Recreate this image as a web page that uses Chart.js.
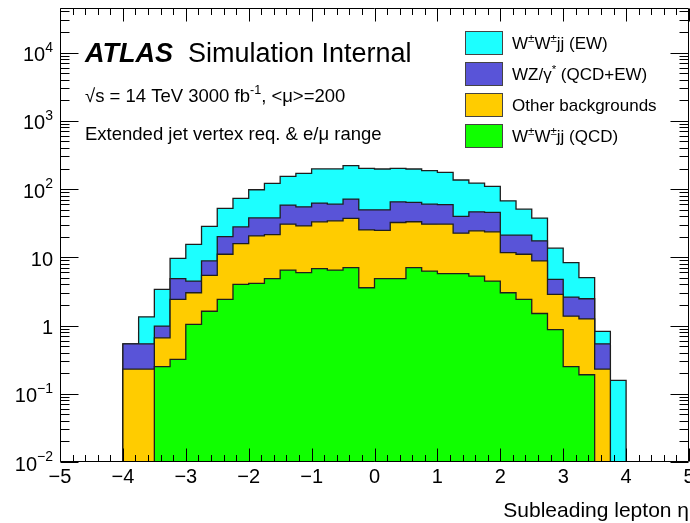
<!DOCTYPE html>
<html><head><meta charset="utf-8">
<script src="https://cdn.jsdelivr.net/npm/chart.js@4"></script>
<style>html,body{margin:0;padding:0;background:#fff;overflow:hidden;} #wrap{position:relative;width:690px;height:523px;overflow:hidden;}</style>
</head><body><div id="wrap"><canvas id="c" width="690" height="523"></canvas></div>
<script>
// Bin lower edges in subleading-lepton eta (bin width 0.25)
const binLowEdges = [-4,-3.75,-3.5,-3.25,-3,-2.75,-2.5,-2.25,-2,-1.75,-1.5,-1.25,-1,-0.75,-0.5,-0.25,
                     0,0.25,0.5,0.75,1,1.25,1.5,1.75,2,2.25,2.5,2.75,3,3.25,3.5,3.75];
const binWidth = 0.25;
// Series values (events per bin), bottom of stack first
const wwQCD   = [0,0,0.25,0.32,1.04,1.62,2.41,4.0,4.15,4.86,6.5,5.96,6.8,6.5,7.05,3.58,
                 4.86,4.86,7.05,6.29,5.75,5.75,5.31,4.48,3.02,2.41,1.5,0.87,0.25,0.19,0,0];
const otherBkg = [0.23,0.23,0.41,2.09,1.98,3.82,8.66,11.9,16.4,16.6,24.1,22.9,26.3,27.7,30.0,21.6,
                 20.0,27.5,26.1,24.3,24.9,16.8,19.1,19.1,8.7,8.66,7.33,1.99,1.12,1.06,0.23,0];
const wzGamma = [0.31,0.31,0.32,2.45,1.46,3.39,9.03,12.0,17.2,16.3,27.6,26.1,29.1,25.9,34.2,24.5,
                 24.8,32.7,30.6,29.5,28.3,17.2,22.0,21.8,9.4,10.0,8.6,1.89,1.24,1.22,0.31,0];
const wwEW    = [0,0.80,2.40,4.81,11.0,19.5,31.9,45.1,59.9,83.2,95.4,115,135,137,149,151,
                 147,136,133,126,117,96,76,64,46.2,29.7,20.1,8.85,5.74,2.55,0.28,0.157];
const seriesNames = ['W\u00B1W\u00B1jj (QCD)','Other backgrounds','WZ/\u03B3* (QCD+EW)','W\u00B1W\u00B1jj (EW)'];
// Tick labels
const xTickValues = [-5,-4,-3,-2,-1,0,1,2,3,4,5];
const xTickLabels = ['\u22125','\u22124','\u22123','\u22122','\u22121','0','1','2','3','4','5'];
const yTickValues = [0.01,0.1,1,10,100,1000,10000];
const yTickLabels = [['10','\u22122'],['10','\u22121'],['1',''],['10',''],['10','2'],['10','3'],['10','4']];

const colors = ['#10ff00','#ffcc00','#5954d8','#1cffff'];
const series = [wwQCD, otherBkg, wzGamma, wwEW];
const FLOOR = 1e-4;
const datasets = [];
let cum = binLowEdges.map(()=>0);
series.forEach((vals, i) => {
  cum = cum.map((c, j) => c + vals[j]);
  const v = c => (c > 0 ? c : FLOOR);
  const pts = [{x: binLowEdges[0], y: FLOOR}];
  binLowEdges.forEach((e, j) => pts.push({x: e, y: v(cum[j])}));
  const last = binLowEdges[binLowEdges.length-1] + binWidth;
  pts.push({x: last, y: v(cum[cum.length-1])});
  pts.push({x: last, y: FLOOR});
  datasets.push({label: seriesNames[i], data: pts, stepped: true, fill: 'start',
    backgroundColor: colors[i], borderColor: '#1e1e1e', borderWidth: 1.3,
    pointRadius: 0, tension: 0});
});

const FONT = '"Liberation Sans", Arial, Helvetica, sans-serif';
function rich(ctx, x, y, segs, size, style) {
  let cx = x;
  segs.forEach(s => {
    const sz = s.sup ? size*0.68 : size;
    ctx.font = (style||'') + ' ' + sz + 'px ' + FONT;
    ctx.fillText(s.t, cx, s.sup ? y - size*0.42 : y);
    cx += ctx.measureText(s.t).width;
  });
  return cx - x;
}

const decor = {
  id: 'decor',
  afterDraw(chart) {
    const ctx = chart.ctx, a = chart.chartArea, xs = chart.scales.x, ys = chart.scales.y;
    ctx.save();
    ctx.strokeStyle = '#000'; ctx.lineWidth = 1;
    const L = Math.round(a.left)+0.5, R = Math.round(a.right)-0.5, T = Math.round(a.top)+0.5, B = Math.round(a.bottom)-0.5;
    ctx.beginPath(); ctx.rect(L, T, R-L, B-T); ctx.stroke();
    // x ticks
    ctx.beginPath();
    for (let k = -50; k <= 50; k += 2) {
      const v = k/10, px = Math.round(xs.getPixelForValue(v))+0.5;
      const len = (k % 10 === 0) ? 13 : 6.5;
      ctx.moveTo(px, B); ctx.lineTo(px, B-len);
      ctx.moveTo(px, T); ctx.lineTo(px, T+len);
    }
    // y ticks
    for (let e = -2; e <= 4; e++) {
      for (let m = 1; m <= 9; m++) {
        const v = m*Math.pow(10,e);
        if (v > ys.max) continue;
        const py = Math.round(ys.getPixelForValue(v))+0.5;
        const len = (m === 1) ? 18 : 9;
        ctx.moveTo(L, py); ctx.lineTo(L+len, py);
        ctx.moveTo(R, py); ctx.lineTo(R-len, py);
      }
    }
    ctx.stroke();
    ctx.fillStyle = '#000';
    // x labels
    ctx.font = '20px ' + FONT; ctx.textAlign = 'center'; ctx.textBaseline = 'alphabetic';
    xTickValues.forEach((v, i) => ctx.fillText(xTickLabels[i], xs.getPixelForValue(v), B + 21));
    // y labels
    ctx.textAlign = 'left';
    yTickValues.forEach((v, i) => {
      const py = ys.getPixelForValue(v);
      const [b, s] = yTickLabels[i];
      ctx.font = '20px ' + FONT; const wb = ctx.measureText(b).width;
      ctx.font = '14px ' + FONT; const ws = s ? ctx.measureText(s).width : 0;
      const x0 = 53 - wb - ws;
      ctx.font = '20px ' + FONT; ctx.fillText(b, x0, py + 8.5);
      if (s) { ctx.font = '14px ' + FONT; ctx.fillText(s, x0 + wb, py - 1); }
    });
    // axis title
    ctx.textAlign = 'right'; ctx.font = '21px ' + FONT;
    ctx.fillText('Subleading lepton \u03B7', 689, 517);
    ctx.textAlign = 'left';
    // ATLAS label
    ctx.font = 'italic bold 27px ' + FONT; ctx.fillText('ATLAS', 85, 62);
    ctx.font = '27px ' + FONT; ctx.fillText('Simulation Internal', 188, 62);
    rich(ctx, 85, 102, [{t:'\u221As = 14 TeV 3000 fb'},{t:'-1',sup:true},{t:', <\u03BC>=200'}], 18.5);
    ctx.font = '18.5px ' + FONT; ctx.fillText('Extended jet vertex req. & e/\u03BC range', 85, 140);
    // legend
    const legRows = [
      {c: colors[3], segs: [{t:'W'},{t:'\u00B1',sup:true},{t:'W'},{t:'\u00B1',sup:true},{t:'jj (EW)'}]},
      {c: colors[2], segs: [{t:'WZ/\u03B3'},{t:'*',sup:true},{t:' (QCD+EW)'}]},
      {c: colors[1], segs: [{t:'Other backgrounds'}]},
      {c: colors[0], segs: [{t:'W'},{t:'\u00B1',sup:true},{t:'W'},{t:'\u00B1',sup:true},{t:'jj (QCD)'}]}
    ];
    legRows.forEach((r, i) => {
      const top = 31 + i*31;
      ctx.fillStyle = r.c; ctx.fillRect(465, top, 38, 24);
      ctx.strokeStyle = '#444'; ctx.lineWidth = 1; ctx.strokeRect(465.5, top+0.5, 37, 23);
      ctx.fillStyle = '#000';
      rich(ctx, 512, top + 18, r.segs, 17);
    });
    ctx.restore();
  }
};

new Chart(document.getElementById('c'), {
  type: 'line',
  data: { datasets },
  options: {
    responsive: false, animation: false, devicePixelRatio: 1,
    layout: { padding: { left: 60, right: 1, top: 8, bottom: 61 } },
    scales: {
      x: { type: 'linear', min: -5, max: 5, display: false },
      y: { type: 'logarithmic', min: 0.01, max: 45000, display: false }
    },
    plugins: { legend: { display: false }, tooltip: { enabled: false } }
  },
  plugins: [decor]
});
</script></body></html>
